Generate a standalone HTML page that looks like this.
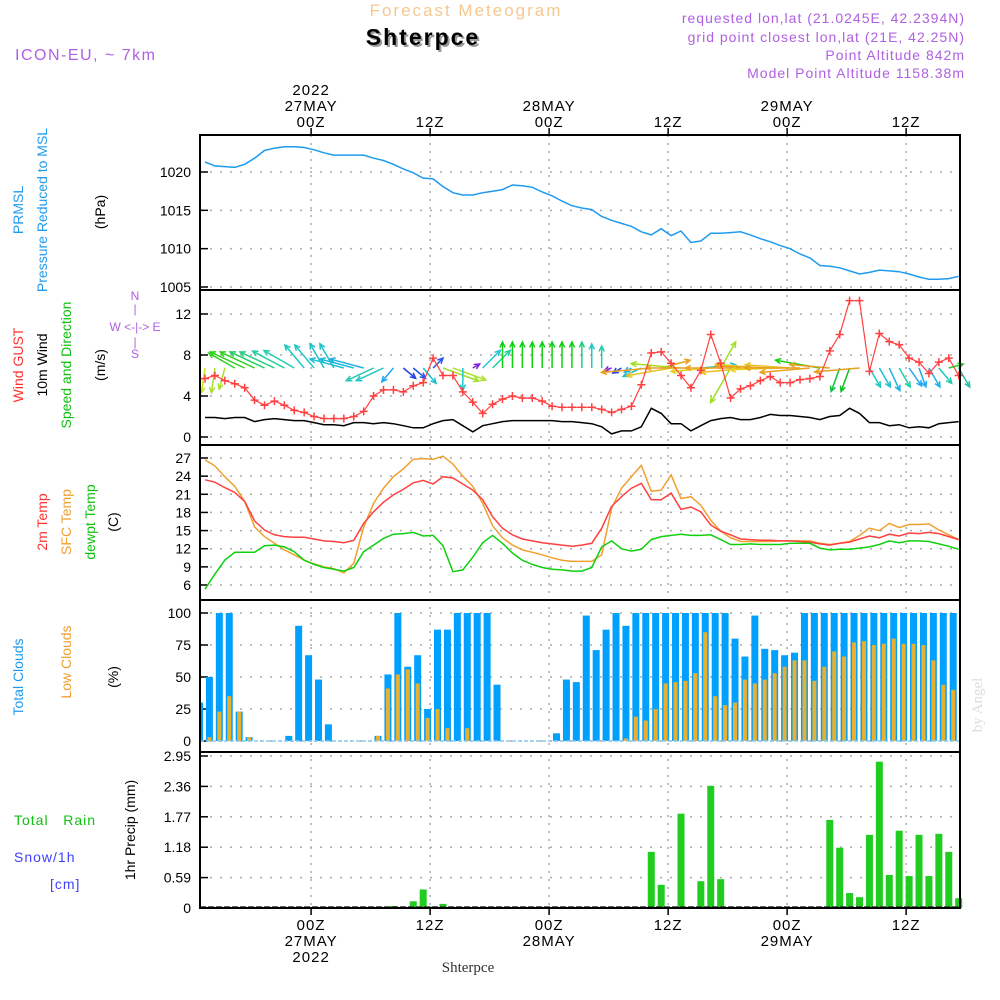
<!DOCTYPE html>
<html><head><meta charset="utf-8"><style>
body{margin:0;background:#fff;}
svg{display:block;font-family:"Liberation Sans",sans-serif;}
</style></head><body>
<svg id="chart" width="1000" height="1000" viewBox="0 0 1000 1000">
<rect width="1000" height="1000" fill="#fff"/>
<text x="466" y="16" text-anchor="middle" font-size="17" fill="#f5c890" letter-spacing="2">Forecast Meteogram</text>
<text x="425" y="47" text-anchor="middle" font-size="23" font-weight="bold" fill="#9a9a9a" letter-spacing="2">Shterpce</text>
<text x="423" y="45" text-anchor="middle" font-size="23" font-weight="bold" fill="#000" letter-spacing="2">Shterpce</text>
<text x="15" y="60" font-size="16" fill="#b060e0" letter-spacing="1.5">ICON-EU, ~ 7km</text>
<g font-size="14" fill="#b060e0" text-anchor="end" letter-spacing="1">
<text x="965" y="23">requested lon,lat (21.0245E, 42.2394N)</text>
<text x="965" y="42">grid point closest lon,lat (21E, 42.25N)</text>
<text x="965" y="60">Point Altitude 842m</text>
<text x="965" y="78">Model Point Altitude 1158.38m</text>
</g>
<g id="axes"></g>
<g id="marks"></g>
<g font-size="14">
<text transform="translate(23,210) rotate(-90)" text-anchor="middle" fill="#1e9bf0">PRMSL</text>
<text transform="translate(47,210) rotate(-90)" text-anchor="middle" fill="#1e9bf0">Pressure Reduced to MSL</text>
<text transform="translate(105,212) rotate(-90)" text-anchor="middle" fill="#000">(hPa)</text>
<text transform="translate(23,365) rotate(-90)" text-anchor="middle" fill="#ff3030">Wind GUST</text>
<text transform="translate(47,365) rotate(-90)" text-anchor="middle" fill="#000">10m Wind</text>
<text transform="translate(71,365) rotate(-90)" text-anchor="middle" fill="#10c010">Speed and Direction</text>
<text transform="translate(105,365) rotate(-90)" text-anchor="middle" fill="#000">(m/s)</text>
<text transform="translate(47,522) rotate(-90)" text-anchor="middle" fill="#ff3030">2m Temp</text>
<text transform="translate(71,522) rotate(-90)" text-anchor="middle" fill="#f0a030">SFC Temp</text>
<text transform="translate(95,522) rotate(-90)" text-anchor="middle" fill="#10c010">dewpt Temp</text>
<text transform="translate(118,522) rotate(-90)" text-anchor="middle" fill="#000">(C)</text>
<text transform="translate(23,677) rotate(-90)" text-anchor="middle" fill="#1e9bf0">Total Clouds</text>
<text transform="translate(71,662) rotate(-90)" text-anchor="middle" fill="#f0a030">Low Clouds</text>
<text transform="translate(118,677) rotate(-90)" text-anchor="middle" fill="#000">(%)</text>
<text transform="translate(135,830) rotate(-90)" text-anchor="middle" fill="#000">1hr Precip (mm)</text>
<text x="14" y="825" fill="#10c010" letter-spacing="1" xml:space="preserve">Total   Rain</text>
<text x="14" y="862" fill="#4040ff" letter-spacing="1">Snow/1h</text>
<text x="50" y="889" fill="#4040ff" letter-spacing="1">[cm]</text>
</g>
<g font-size="12" fill="#b060e0" text-anchor="middle">
<text x="135" y="300">N</text><text x="135" y="313">|</text>
<text x="135" y="331" xml:space="preserve">W &lt;-|-&gt; E</text>
<text x="135" y="346">|</text><text x="135" y="358">S</text>
</g>
<text x="468" y="972" text-anchor="middle" font-size="15" font-family="Liberation Serif, serif" fill="#333">Shterpce</text>
<text transform="translate(982,705) rotate(-90)" text-anchor="middle" font-size="15" font-family="Liberation Serif, serif" fill="#ddd">by Angel</text>
</svg>
<script>
const pressure=[1021.3,1020.8,1020.7,1020.6,1021.0,1021.8,1022.8,1023.1,1023.3,1023.3,1023.2,1022.9,1022.5,1022.2,1022.2,1022.2,1022.2,1021.8,1021.5,1021.0,1020.4,1019.9,1019.2,1019.1,1018.1,1017.3,1017.0,1017.0,1017.3,1017.5,1017.7,1018.3,1018.2,1018.0,1017.4,1016.9,1016.2,1015.6,1015.3,1015.1,1014.2,1013.7,1013.3,1012.9,1012.2,1011.8,1012.6,1011.7,1012.3,1010.8,1011.0,1012.0,1012.0,1012.1,1012.2,1011.8,1011.3,1010.9,1010.4,1010.0,1009.3,1008.8,1007.8,1007.7,1007.5,1007.1,1006.7,1006.9,1007.2,1007.1,1007.0,1006.7,1006.3,1006.0,1006.0,1006.1,1006.4];
const gust=[5.7,6.0,5.5,5.2,4.8,3.6,3.1,3.5,3.1,2.6,2.4,2.0,1.8,1.8,1.8,2.0,2.5,4.0,4.6,4.6,4.4,5.0,5.3,7.7,6.0,6.0,4.4,3.4,2.3,3.2,3.7,4.0,3.8,3.8,3.5,3.0,2.9,2.9,2.9,2.9,2.7,2.4,2.7,3.0,5.1,8.2,8.3,7.2,6.0,4.8,6.5,10.0,7.2,3.8,4.7,5.0,5.5,5.9,5.3,5.3,5.6,5.7,5.9,8.4,10.0,13.3,13.3,6.4,10.1,9.3,9.0,7.7,7.3,6.2,7.3,7.7,6.0];
const wind10=[1.9,1.9,1.8,1.9,1.9,1.5,1.7,1.8,1.7,1.6,1.6,1.4,1.2,1.2,1.1,1.4,1.4,1.3,1.4,1.3,1.1,0.9,0.9,1.3,1.6,1.7,1.1,0.5,1.1,1.3,1.5,1.6,1.6,1.6,1.6,1.6,1.5,1.5,1.4,1.3,1.0,0.3,0.6,0.6,1.0,2.8,2.3,1.3,1.3,0.6,1.1,1.6,1.8,1.9,1.7,1.7,1.9,2.2,2.1,2.1,2.0,1.9,1.7,2.0,2.1,2.8,2.3,1.4,1.4,1.1,1.2,0.9,1.0,0.9,1.3,1.4,1.5];
const windDirDeg=[262,262,255,150,155,155,155,155,152,150,130,130,120,120,165,165,165,205,205,230,320,320,310,45,340,340,270,30,45,45,90,90,90,90,90,90,90,90,90,90,90,200,210,210,205,185,15,190,175,180,5,185,60,240,180,185,175,178,182,176,180,185,170,175,250,250,185,300,300,295,300,305,290,300,310,15,300];
const windLen=[25,25,22,30,38,38,38,38,36,35,30,30,28,28,35,35,35,30,30,18,16,16,20,14,38,35,22,8,25,25,26,26,26,26,26,26,26,26,26,24,22,8,10,8,20,50,30,45,50,45,35,40,30,40,55,50,45,55,50,45,55,50,45,40,25,25,45,22,22,25,22,22,20,22,20,15,22];
const windColor=["#c8e020","#a8e030","#a8e030","#30d020","#30d020","#30d020","#20d060","#20d080","#20d0a0","#20d0b0","#20c8c0","#20c8c8","#20c0d0","#20c0d0","#20c0d0","#20b8d8","#20b0e0","#20c8b0","#20c8c0","#20a8f0","#2040e0","#2050f0","#20c0d0","#2050f0","#a0e030","#b0e030","#20c8d0","#8020e0","#20c8d0","#20d0a0","#10d010","#10d010","#10d010","#10d010","#10d010","#10d010","#10d010","#10d010","#20d080","#20c8c8","#20d0a0","#8020e0","#2040e0","#20a8f0","#20c0d0","#e8a020","#e8a020","#e8c020","#a0e020","#e8a020","#20c0d0","#e8d020","#a0e020","#a0e020","#e8a020","#e8c020","#e8d020","#e8a020","#e8d020","#e8c020","#e8a020","#e8a020","#10d010","#e8a020","#10c040","#10c020","#e8a020","#20c8c0","#20c0d0","#20b0e8","#20d0a0","#20a8f0","#20a8f0","#20b0e8","#20c8b0","#20d020","#20c0a0"];
const temp2m=[23.4,23.0,22.1,21.3,19.8,16.6,15.1,14.3,14.0,13.9,13.9,13.6,13.3,13.2,13.0,13.4,16.2,18.1,19.7,20.9,21.8,22.9,23.3,22.7,23.9,23.7,22.7,21.7,20.1,17.3,15.4,14.3,13.6,13.3,13.0,12.8,12.6,12.4,12.6,12.9,15.4,19.0,20.6,22.0,22.8,20.1,20.1,21.2,18.5,18.9,18.1,15.9,14.9,14.3,13.6,13.5,13.4,13.4,13.3,13.3,13.2,13.1,12.8,12.6,12.9,13.1,13.6,14.1,13.8,14.4,14.1,14.6,14.5,14.7,14.5,14.0,13.5];
const tempSfc=[26.7,25.7,23.9,22.3,19.8,15.6,14.0,12.9,11.8,11.0,10.1,9.5,9.0,8.7,8.0,9.6,15.6,19.5,22.0,23.9,25.2,26.8,26.9,26.8,27.3,26.0,24.0,22.3,19.5,15.8,13.8,12.6,11.8,11.4,11.0,10.5,10.1,9.9,9.9,9.9,11.0,18.7,22.0,23.9,25.8,21.5,21.7,24.2,20.3,20.6,19.2,16.7,14.9,13.8,13.2,13.2,13.2,13.2,13.3,13.3,13.3,13.3,12.9,12.7,12.9,13.2,14.2,15.4,15.0,16.2,15.5,16.0,16.0,16.1,15.1,14.3,13.5];
const dewpt=[5.3,7.8,10.1,11.4,11.4,11.4,12.5,12.6,12.3,11.5,10.1,9.4,8.9,8.6,8.3,8.9,11.5,12.6,13.7,14.4,14.5,14.7,14.1,14.2,12.5,8.2,8.5,10.6,13.0,14.2,12.9,11.3,10.1,9.4,8.9,8.6,8.5,8.3,8.3,8.9,12.3,13.3,12.0,11.6,11.9,13.5,14.0,14.2,14.4,14.2,14.2,14.3,13.5,12.7,12.7,12.8,12.7,12.7,12.7,12.9,12.9,12.9,12.1,11.8,11.9,11.9,12.1,12.3,12.7,13.3,13.0,13.3,13.3,13.2,12.8,12.4,11.9];
const totalClouds=[30,50,100,100,23,3,0,0,0,4,90,67,48,13,0,0,0,0,4,52,100,58,67,25,87,87,100,100,100,100,44,0,0,0,0,0,6,48,46,98,71,87,100,90,100,100,100,100,100,100,100,100,100,100,80,66,98,72,71,67,69,100,100,100,100,100,100,100,100,100,100,100,100,100,100,100,100];
const lowClouds=[0,3,23,35,23,3,0,0,0,0,0,0,0,0,0,0,0,0,4,41,52,56,45,18,25,10,0,10,0,0,0,0,0,0,0,0,0,0,0,0,0,0,0,2,19,16,25,45,46,47,53,85,35,28,30,48,45,48,53,58,63,63,47,58,70,66,77,78,75,76,80,76,76,75,63,44,40];
const precip=[0,0,0,0,0,0,0,0,0,0,0,0,0,0,0,0,0,0,0,0.04,0,0.13,0.36,0.03,0.08,0,0,0,0,0,0,0,0,0,0,0,0,0,0,0,0,0,0,0,0,1.09,0.45,0,1.83,0.03,0.52,2.37,0.56,0,0.01,0,0,0,0,0,0,0,0,1.71,1.17,0.29,0.21,1.42,2.84,0.64,1.50,0.62,1.42,0.62,1.44,1.09,0.19];
const pressTicks=[1005,1010,1015,1020];
const windTicks=[0,4,8,12];
const tempTicks=[6,9,12,15,18,21,24,27];
const cloudTicks=[0,25,50,75,100];
const precipTicks=["0","0.59","1.18","1.77","2.36","2.95"];
const timeTickHours=[10.7,22.7,34.7,46.7,58.7,70.7];
const timeTickLabels=[["2022","27MAY","00Z"],["12Z"],["28MAY","00Z"],["12Z"],["29MAY","00Z"],["12Z"]];

const NS="http://www.w3.org/2000/svg";
const X0=200,X1=960;
const xT=i=>205+9.917*i;
const yP=v=>287-(v-1005)*7.667;
const yW=v=>437-v*10.25;
const yTmp=v=>458+(27-v)*6.048;
const yC=v=>741-v*1.28;
const yR=v=>908-v*(152/2.95);
function el(tag,attrs,parent){const e=document.createElementNS(NS,tag);for(const k in attrs)e.setAttribute(k,attrs[k]);parent.appendChild(e);return e;}
const axes=document.getElementById('axes'),marks=document.getElementById('marks');

function hgrid(ticks,yf,name,labels){
  ticks.forEach((t,j)=>{
    const v=typeof t==="string"?parseFloat(t):t;const y=yf(v);
    const g=el('line',{x1:X0,x2:X1,y1:y,y2:y,stroke:'#aaa','stroke-dasharray':'2,8','stroke-width':1.5},axes);
    
    
    el('line',{x1:X0,x2:X0+8,y1:y,y2:y,stroke:'#000','stroke-width':1.5},axes);
    const tx=el('text',{x:191,y:y+5,'text-anchor':'end','font-size':14,fill:'#000'},axes);
    tx.textContent=labels?labels[j]:String(t);
    
    
  });
}
hgrid(pressTicks,yP,'pressure');
hgrid(windTicks,yW,'wind');
hgrid(tempTicks,yTmp,'temp');
hgrid(cloudTicks,yC,'cloud');
hgrid(precipTicks,yR,'precip',precipTicks);
timeTickHours.forEach((h,j)=>{
  const x=xT(h);
  const v=el('line',{x1:x,x2:x,y1:135,y2:908,stroke:'#aaa','stroke-dasharray':'2,6','stroke-width':1.5},axes);
  
  
  el('line',{x1:x,x2:x,y1:128,y2:135,stroke:'#000','stroke-width':1.5},axes);
  el('line',{x1:x,x2:x,y1:908,y2:915,stroke:'#000','stroke-width':1.5},axes);
  const lab=timeTickLabels[j];
  lab.forEach((s,k)=>{
    const t=el('text',{x:x,y:127-(lab.length-1-k)*16,'text-anchor':'middle','font-size':15,fill:'#000','letter-spacing':1},axes);
    t.textContent=s;
    
    
  });
  [...lab].reverse().forEach((s,k)=>{
    const t=el('text',{x:x,y:930+k*16,'text-anchor':'middle','font-size':15,fill:'#000','letter-spacing':1},axes);
    t.textContent=s;
    
    
  });
});

function line(arr,yf,color,name,w){
  const pts=arr.map((v,i)=>xT(i).toFixed(1)+','+yf(v).toFixed(1)).join(' ');
  const p=el('polyline',{points:pts,fill:'none',stroke:color,'stroke-width':w||1.5},marks);
  
  
  return p;
}
line(pressure,yP,'#1e9bf0','pressure-line');
line(wind10,yW,'#000','wind-10m-line');
windDirDeg.forEach((d,i)=>{
  const x=xT(i),y=368,a=d*Math.PI/180,L=windLen[i];
  const ex=x+L*Math.cos(a),ey=y-L*Math.sin(a);
  const g=el('g',{stroke:windColor[i],'stroke-width':1.5,fill:'none'},marks);
  
  
  el('line',{x1:x,y1:y,x2:ex,y2:ey},g);
  const h=6,s=0.45;
  el('polyline',{points:`${ex-h*Math.cos(a-s)},${ey+h*Math.sin(a-s)} ${ex},${ey} ${ex-h*Math.cos(a+s)},${ey+h*Math.sin(a+s)}`},g);
});
line(gust,yW,'#ff4040','wind-gust-line',1.2);
gust.forEach((v,i)=>{
  const x=xT(i),y=yW(v);
  const m=el('path',{d:`M${x-4} ${y}H${x+4}M${x} ${y-4}V${y+4}`,stroke:'#ff4040','stroke-width':1.5},marks);
  
  
});
line(tempSfc,yTmp,'#f0a030','sfc-temp-line');
line(temp2m,yTmp,'#ff4040','2m-temp-line');
line(dewpt,yTmp,'#10d010','dewpoint-line');
totalClouds.forEach((v,k)=>{
  const c=199.5+9.917*k;
  let l=c-3.5,r=c+3.5;l=Math.max(l,X0);r=Math.min(r,X1);
  const b=el('rect',{x:l,y:yC(v),width:Math.max(r-l,0),height:741-yC(v),fill:'#00a0ff'},marks);
  
  
  const lv=lowClouds[k];
  if(lv>0){
    let l2=Math.max(c-2,X0),r2=Math.min(c+2,X1);
    const b2=el('rect',{x:l2,y:yC(lv),width:Math.max(r2-l2,0),height:741-yC(lv),fill:'#e8b030'},marks);
    
    
  }
});
el('line',{x1:X0,x2:X1,y1:741,y2:741,stroke:'#88c8f0','stroke-width':1.5,'stroke-dasharray':'4,2'},marks);
precip.forEach((v,i)=>{
  if(v<=0)return;
  const c=xT(i);
  const b=el('rect',{x:c-3.5,y:yR(v),width:7,height:908-yR(v),fill:'#20cc20'},marks);
  
  
});
el('line',{x1:X0,x2:X1,y1:907,y2:907,stroke:'#333','stroke-width':1.5,'stroke-dasharray':'6,2'},marks);
const fr=el('rect',{x:X0,y:135,width:X1-X0,height:773,fill:'none',stroke:'#000','stroke-width':2},marks);


[290,445,600,752].forEach(y=>{
  const s=el('line',{x1:X0,x2:X1,y1:y,y2:y,stroke:'#000','stroke-width':2},marks);
  
  
});
</script>
</body></html>
